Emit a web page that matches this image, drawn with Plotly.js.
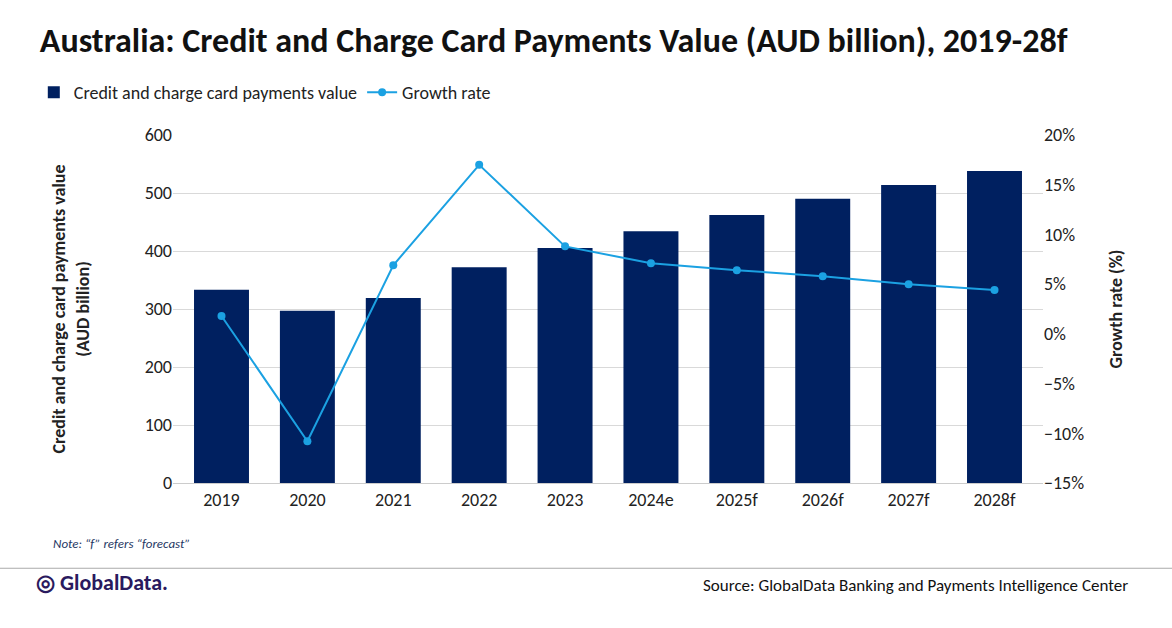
<!DOCTYPE html>
<html>
<head>
<meta charset="utf-8">
<script src="https://cdn.plot.ly/plotly-3.0.1.min.js"></script>
<style>
body{margin:0;background:#fff;font-family:Calibri,Carlito,"Liberation Sans",sans-serif;}
#plt{width:1172px;height:628px;}
</style>
</head>
<body>
<div id="plt"></div>
<script>
var years = ['2019','2020','2021','2022','2023','2024e','2025f','2026f','2027f','2028f'];
var values = [333, 297, 319, 372, 405, 434, 462, 490, 514, 538];
var growth = [1.8, -10.8, 6.9, 17.0, 8.8, 7.1, 6.4, 5.8, 5.0, 4.4];

var font = 'Carlito, Calibri, "Open Sans", sans-serif';

function plot(){
    let d = [{
        type: 'bar',
        name: 'Credit and charge card payments value',
        x: years,
        y: values,
        marker: {color: '#002060'}
    }, {
        type: 'scatter',
        mode: 'lines+markers',
        name: 'Growth rate',
        x: years,
        y: growth,
        yaxis: 'y2',
        line: {color: '#1ba1e2', width: 2},
        marker: {color: '#1ba1e2', size: 8}
    }];
    let l = {
        width: 1172, height: 628,
        margin: {l: 173, r: 129, t: 135, b: 145},
        font: {family: font, size: 18, color: '#222'},
        title: {text: '<b>Australia: Credit and Charge Card Payments Value (AUD billion), 2019-28f</b>',
                x: 0.034, xanchor: 'left', y: 0.955, font: {size: 34, color: '#111'}},
        showlegend: true,
        legend: {orientation: 'h', x: -0.16, y: 1.175, xanchor: 'left', font: {size: 18}},
        bargap: 0.36,
        xaxis: {type: 'category', showline: true, linecolor: '#ccc', ticks: ''},
        yaxis: {range: [0, 600], dtick: 100, gridcolor: '#d9d9d9', zeroline: false,
                title: {text: '<b>Credit and charge card payments value<br>(AUD billion)</b>', font: {size: 18}, standoff: 50}},
        yaxis2: {overlaying: 'y', side: 'right', range: [-15, 20], dtick: 5, ticksuffix: '%',
                 showgrid: false, zeroline: false,
                 title: {text: '<b>Growth rate (%)</b>', font: {size: 18}, standoff: 26}},
        annotations: [
            {xref: 'paper', yref: 'paper', x: -0.14, y: -0.2, xanchor: 'left', showarrow: false,
             text: '<i>Note: “f” refers “forecast”</i>', font: {size: 13, color: '#1f3864'}},
            {xref: 'paper', yref: 'paper', x: -0.16, y: -0.33, xanchor: 'left', showarrow: false,
             text: '<b>◎ GlobalData.</b>', font: {size: 22, color: '#2a1a5e'}},
            {xref: 'paper', yref: 'paper', x: 1.1, y: -0.33, xanchor: 'right', showarrow: false,
             text: 'Source: GlobalData Banking and Payments Intelligence Center', font: {size: 17, color: '#111'}}
        ],
        shapes: [{type: 'line', xref: 'paper', yref: 'paper', x0: -0.2, x1: 1.2, y0: -0.245, y1: -0.245,
                  line: {color: '#aaa', width: 1}}]
    };
    Plotly.newPlot('plt', d, l, {displayModeBar: false});
}
plot();
</script>
</body>
</html>
